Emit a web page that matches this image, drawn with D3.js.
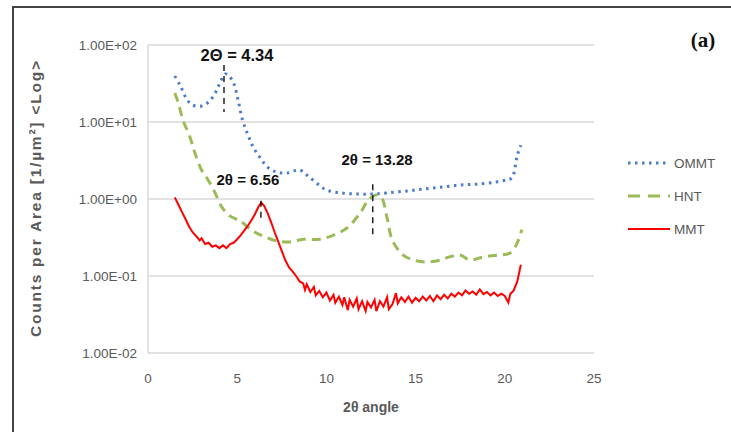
<!DOCTYPE html>
<html>
<head>
<meta charset="utf-8">
<script src="https://cdn.jsdelivr.net/npm/d3@7"></script>
<style>
  body { margin: 0; background: #fff; }
  text { font-family: "Liberation Sans", Arial, sans-serif; }
</style>
</head>
<body>
<svg width="731" height="432"></svg>
<script>
// data: [2theta, counts]
var ommt = [[1.5,39.5],[1.8,30],[2.2,19.3],[2.5,16.6],[3.0,16.1],[3.4,18.2],[3.8,24.5],[4.05,33],
  [4.34,42],[4.5,40.7],[4.8,32],[5.05,19.3],[5.3,10.6],[5.6,6.8],[5.9,4.7],[6.3,3.4],[6.7,2.6],
  [7.2,2.24],[7.8,2.18],[8.5,2.38],[8.9,2.05],[9.45,1.61],[10.0,1.31],[10.8,1.2],[11.7,1.16],
  [12.6,1.16],[13.4,1.2],[14.5,1.27],[15.5,1.35],[16.5,1.43],[17.5,1.52],[18.5,1.56],[19.5,1.66],
  [20.1,1.77],[20.4,1.88],[20.7,3.7],[20.9,5.0]];

var hnt = [[1.5,23.8],[1.7,17.7],[1.96,10.6],[2.35,6.4],[2.63,3.95],[3.0,2.38],[3.37,1.77],[3.76,1.2],
  [4.13,0.79],[4.6,0.6],[5.16,0.52],[5.9,0.38],[6.46,0.33],[7.2,0.285],[7.96,0.277],[8.7,0.3],
  [9.6,0.3],[10.4,0.34],[11.15,0.42],[11.9,0.66],[12.35,0.97],[12.8,1.13],[13.1,1.03],[13.4,0.57],
  [13.7,0.29],[14.3,0.187],[14.9,0.161],[15.6,0.152],[16.4,0.161],[16.9,0.177],[17.5,0.187],
  [18.05,0.161],[18.8,0.177],[19.6,0.187],[20.3,0.199],[20.7,0.27],[20.95,0.4]];

var mmt = [[1.5,1.05],[1.7,0.85],[1.9,0.68],[2.1,0.55],[2.3,0.44],[2.5,0.37],[2.7,0.33],[2.9,0.29],
  [3.0,0.31],[3.2,0.26],[3.4,0.27],[3.6,0.24],[3.8,0.25],[4.0,0.23],[4.2,0.25],[4.4,0.23],[4.6,0.26],
  [4.8,0.27],[5.0,0.30],[5.2,0.34],[5.4,0.39],[5.6,0.45],[5.8,0.53],[6.0,0.64],[6.2,0.80],[6.35,0.90],
  [6.5,0.82],[6.7,0.66],[6.9,0.50],[7.1,0.37],[7.3,0.28],[7.5,0.21],[7.7,0.16],[7.9,0.13],[8.1,0.115],
  [8.3,0.10],[8.5,0.085],[8.7,0.080],[8.8,0.066],[8.9,0.078],[9.1,0.062],[9.3,0.072],[9.4,0.056],
  [9.6,0.064],[9.8,0.053],[10.0,0.061],[10.2,0.048],[10.4,0.057],[10.5,0.045],[10.7,0.054],[10.9,0.042],
  [11.0,0.053],[11.2,0.036],[11.3,0.049],[11.5,0.040],[11.7,0.051],[11.8,0.037],[12.0,0.047],
  [12.2,0.035],[12.3,0.046],[12.5,0.039],[12.7,0.049],[12.8,0.035],[13.0,0.047],[13.2,0.040],
  [13.4,0.053],[13.5,0.037],[13.7,0.043],[13.9,0.060],[14.0,0.044],[14.2,0.053],[14.4,0.046],
  [14.6,0.054],[14.8,0.045],[15.0,0.052],[15.2,0.047],[15.4,0.054],[15.6,0.048],[15.8,0.055],
  [16.0,0.047],[16.2,0.056],[16.4,0.050],[16.6,0.057],[16.8,0.051],[17.0,0.059],[17.2,0.054],
  [17.4,0.061],[17.6,0.056],[17.8,0.065],[18.0,0.059],[18.2,0.063],[18.4,0.057],[18.6,0.067],
  [18.8,0.058],[19.0,0.062],[19.2,0.056],[19.4,0.061],[19.6,0.055],[19.8,0.059],[20.0,0.055],
  [20.2,0.045],[20.3,0.058],[20.5,0.065],[20.7,0.085],[20.9,0.14]];

var xTicks = [0, 5, 10, 15, 20, 25];
var yTicks = [0.01, 0.1, 1, 10, 100];
var yTickLabels = ['1.00E-02', '1.00E-01', '1.00E+00', '1.00E+01', '1.00E+02'];

// annotations: label, x of dashed line, top/bottom value of line, label position
var notes = [
  {text: '2\u0398 = 4.34', x: 4.26, top: 55, bottom: 13.5, lx: 4.99, ly: 62, size: 16.5},
  {text: '2\u03b8 = 6.56', x: 6.33, top: 0.95, bottom: 0.55, lx: 5.6, ly: 1.52, size: 15},
  {text: '2\u03b8 = 13.28', x: 12.6, top: 1.55, bottom: 0.33, lx: 12.84, ly: 2.75, size: 15}
];

var series = [
  {name: 'OMMT', data: ommt, color: '#4a7cc7', width: 3, dash: '2.5 4.5', curve: d3.curveCatmullRom},
  {name: 'HNT', data: hnt, color: '#9bbb59', width: 3, dash: '9 6', curve: d3.curveCatmullRom},
  {name: 'MMT', data: mmt, color: '#ff0000', width: 2, dash: null, curve: d3.curveLinear}
];

var svg = d3.select('svg');

var scaleX = d3.scaleLinear().domain([0, 25]).range([148, 594]);
var scaleY = d3.scaleLog().domain([0.01, 100]).range([353, 45]);

// outer frame
svg.append('rect')
    .attr('x', 13).attr('y', 7)
    .attr('width', 740).attr('height', 440)
    .attr('fill', 'none')
    .attr('stroke', '#444')
    .attr('stroke-width', 2);

// grid
svg.selectAll('.grid')
    .data(yTicks)
    .enter()
    .append('line')
    .attr('x1', scaleX(0)).attr('x2', scaleX(25))
    .attr('y1', function(d){ return scaleY(d) })
    .attr('y2', function(d){ return scaleY(d) })
    .attr('stroke', '#d9d9d9')
    .attr('stroke-width', 1.5);

svg.append('line')
    .attr('x1', scaleX(0)).attr('x2', scaleX(0))
    .attr('y1', scaleY(100)).attr('y2', scaleY(0.01))
    .attr('stroke', '#d9d9d9')
    .attr('stroke-width', 1.5);

// y tick labels
svg.selectAll('.ylab')
    .data(yTicks)
    .enter()
    .append('text')
    .attr('x', 137)
    .attr('y', function(d){ return scaleY(d) + 5 })
    .attr('text-anchor', 'end')
    .attr('font-size', 13.5)
    .attr('fill', '#595959')
    .text(function(d, i){ return yTickLabels[i] });

// x tick labels
svg.selectAll('.xlab')
    .data(xTicks)
    .enter()
    .append('text')
    .attr('x', function(d){ return scaleX(d) })
    .attr('y', 383)
    .attr('text-anchor', 'middle')
    .attr('font-size', 13.5)
    .attr('fill', '#595959')
    .text(function(d){ return d });

// axis titles
svg.append('text')
    .attr('x', 371)
    .attr('y', 412)
    .attr('text-anchor', 'middle')
    .attr('font-size', 14)
    .attr('font-weight', 'bold')
    .attr('fill', '#595959')
    .text('2\u03b8 angle');

svg.append('text')
    .attr('transform', 'translate(41,199) rotate(-90)')
    .attr('text-anchor', 'middle')
    .attr('font-size', 15.5)
    .attr('font-weight', 'bold')
    .attr('fill', '#595959')
    .attr('textLength', 276)
    .attr('lengthAdjust', 'spacing')
    .text('Counts per Area [1/\u00b5m\u00b2] <Log>');

// series
series.forEach(function(s){
    var line = d3.line()
        .x(function(d){ return scaleX(d[0]) })
        .y(function(d){ return scaleY(d[1]) })
        .curve(s.curve);
    svg.append('path')
        .datum(s.data)
        .attr('d', line)
        .attr('fill', 'none')
        .attr('stroke', s.color)
        .attr('stroke-width', s.width)
        .attr('stroke-dasharray', s.dash);
});

// annotations
notes.forEach(function(n){
    svg.append('line')
        .attr('x1', scaleX(n.x)).attr('x2', scaleX(n.x))
        .attr('y1', scaleY(n.top)).attr('y2', scaleY(n.bottom))
        .attr('stroke', '#000')
        .attr('stroke-width', 1.3)
        .attr('stroke-dasharray', '6 5');
    svg.append('text')
        .attr('x', scaleX(n.lx))
        .attr('y', scaleY(n.ly))
        .attr('text-anchor', 'middle')
        .attr('font-size', n.size)
        .attr('font-weight', 'bold')
        .attr('fill', '#111')
        .text(n.text);
});

// legend
var legend = svg.selectAll('.legend')
    .data(series)
    .enter()
    .append('g')
    .attr('transform', function(d, i){ return 'translate(628,' + (163 + i * 33) + ')' });

legend.append('line')
    .attr('x1', 0).attr('x2', 42)
    .attr('stroke', function(d){ return d.color })
    .attr('stroke-width', function(d){ return d.width })
    .attr('stroke-dasharray', function(d){ return d.name == 'HNT' ? '12 8' : d.dash });

legend.append('text')
    .attr('x', 46)
    .attr('y', 5)
    .attr('font-size', 13.5)
    .attr('fill', '#595959')
    .text(function(d){ return d.name });

// panel tag
svg.append('text')
    .attr('x', 703)
    .attr('y', 47)
    .attr('text-anchor', 'middle')
    .attr('font-size', 21)
    .attr('font-weight', 'bold')
    .attr('fill', '#111')
    .style('font-family', '"Liberation Serif", serif')
    .text('(a)');
</script>
</body>
</html>
